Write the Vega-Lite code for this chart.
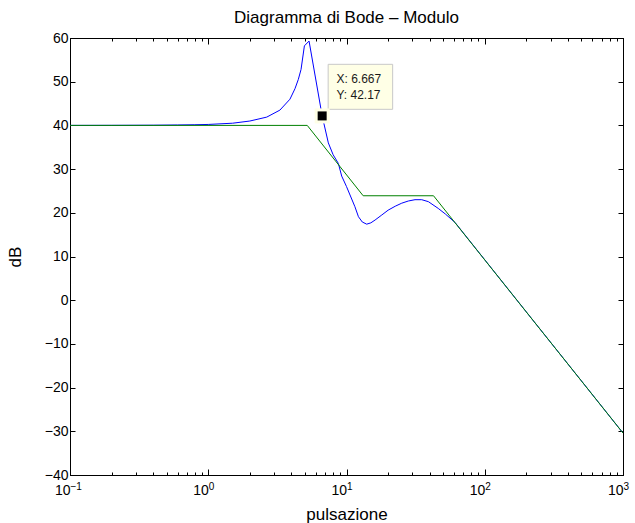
{
  "$schema": "https://vega.github.io/schema/vega-lite/v6.json",
  "width": 553,
  "height": 437,
  "autosize": {"type": "none"},
  "padding": {"left": 70, "top": 38, "right": 12, "bottom": 48},
  "background": "white",
  "title": {"text": "Diagramma di Bode – Modulo", "fontSize": 17, "fontWeight": "normal", "font": "Liberation Sans", "color": "black", "offset": 4, "anchor": "middle", "frame": "group"},
  "config": {
    "view": {"stroke": "black", "strokeWidth": 1},
    "axis": {
      "grid": false,
      "domainColor": "black",
      "tickColor": "black",
      "labelColor": "black",
      "titleColor": "black",
      "labelFont": "Liberation Sans",
      "titleFont": "Liberation Sans",
      "labelFontSize": 14,
      "titleFontSize": 17,
      "titleFontWeight": "normal"
    }
  },
  "datasets": {
    "modulo": [
      {"w": 0.1, "db": 40.0},
      {"w": 0.2, "db": 40.02},
      {"w": 0.4, "db": 40.05},
      {"w": 0.6, "db": 40.1},
      {"w": 0.8, "db": 40.15},
      {"w": 1.0, "db": 40.22},
      {"w": 1.5, "db": 40.5},
      {"w": 2.0, "db": 41.0},
      {"w": 2.65, "db": 41.9},
      {"w": 3.3, "db": 43.5},
      {"w": 3.9, "db": 46.0},
      {"w": 4.24, "db": 48.4},
      {"w": 4.48, "db": 50.5},
      {"w": 4.69, "db": 52.8},
      {"w": 4.96, "db": 58.2},
      {"w": 5.36, "db": 59.3},
      {"w": 6.667, "db": 42.17},
      {"w": 7.39, "db": 36.0},
      {"w": 8.0, "db": 33.3},
      {"w": 8.73, "db": 31.3},
      {"w": 9.23, "db": 28.4},
      {"w": 10.0, "db": 26.0},
      {"w": 11.5, "db": 21.4},
      {"w": 12.2, "db": 19.1},
      {"w": 13.0, "db": 17.9},
      {"w": 14.0, "db": 17.4},
      {"w": 15.0, "db": 17.7},
      {"w": 16.1, "db": 18.35},
      {"w": 18.0, "db": 19.5},
      {"w": 20.0, "db": 20.6},
      {"w": 22.5, "db": 21.5},
      {"w": 25.1, "db": 22.2},
      {"w": 28.0, "db": 22.7},
      {"w": 31.3, "db": 23.0},
      {"w": 35.0, "db": 23.0},
      {"w": 39.1, "db": 22.55},
      {"w": 46.1, "db": 21.0},
      {"w": 52.0, "db": 19.7},
      {"w": 60.9, "db": 17.8},
      {"w": 70.0, "db": 15.4},
      {"w": 100.0, "db": 9.25},
      {"w": 200.0, "db": -2.7},
      {"w": 500.0, "db": -18.45},
      {"w": 1000.0, "db": -30.4}
    ],
    "asintoti": [
      {"w": 0.1, "db": 40.0},
      {"w": 5.2, "db": 40.0},
      {"w": 13.2, "db": 23.9},
      {"w": 42.6, "db": 23.9},
      {"w": 1000.0, "db": -30.4}
    ],
    "tip": [
      {"w": 6.667, "db": 42.17, "label": "X: 6.667\nY: 42.17"}
    ]
  },
  "layer": [
    {
      "data": {"name": "modulo"},
      "mark": {"type": "line", "color": "#0000ff", "strokeWidth": 1, "clip": true},
      "encoding": {
        "x": {
          "field": "w", "type": "quantitative",
          "scale": {"type": "log", "domain": [0.1, 1000], "nice": false},
          "axis": {
            "orient": "bottom",
            "title": "pulsazione",
            "values": [0.1,0.2,0.3,0.4,0.5,0.6,0.7,0.8,0.9,1,2,3,4,5,6,7,8,9,10,20,30,40,50,60,70,80,90,100,200,300,400,500,600,700,800,900,1000],
            "labelExpr": "datum.value == 0.1 || datum.value == 1 || datum.value == 10 || datum.value == 100 || datum.value == 1000 ? '10' : ''",
            "labelAlign": "right",
            "labelDx": 4,
            "labelFlush": false,
            "labelOverlap": false,
            "tickSize": {"condition": {"test": "datum.value == 0.1 || datum.value == 1 || datum.value == 10 || datum.value == 100 || datum.value == 1000", "value": -6}, "value": -3},
            "labelPadding": 14,
            "titlePadding": 6
          }
        },
        "y": {
          "field": "db", "type": "quantitative",
          "scale": {"domain": [-40, 60], "nice": false, "zero": false},
          "axis": {
            "orient": "left",
            "title": "dB",
            "values": [-40,-30,-20,-10,0,10,20,30,40,50,60],
            "tickSize": -5,
            "labelPadding": 7,
            "titlePadding": 20
          }
        }
      }
    },
    {
      "data": {"name": "asintoti"},
      "mark": {"type": "line", "color": "#008000", "strokeWidth": 1, "clip": true},
      "encoding": {
        "x": {
          "field": "w", "type": "quantitative",
          "scale": {"type": "log", "domain": [0.1, 1000], "nice": false},
          "axis": {
            "orient": "top",
            "title": null,
            "labels": false,
            "values": [0.1,0.2,0.3,0.4,0.5,0.6,0.7,0.8,0.9,1,2,3,4,5,6,7,8,9,10,20,30,40,50,60,70,80,90,100,200,300,400,500,600,700,800,900,1000],
            "tickSize": {"condition": {"test": "datum.value == 0.1 || datum.value == 1 || datum.value == 10 || datum.value == 100 || datum.value == 1000", "value": -6}, "value": -3}
          }
        },
        "y": {
          "field": "db", "type": "quantitative",
          "scale": {"domain": [-40, 60], "nice": false, "zero": false},
          "axis": {
            "orient": "right",
            "title": null,
            "labels": false,
            "values": [-40,-30,-20,-10,0,10,20,30,40,50,60],
            "tickSize": -5
          }
        }
      }
    },
    {
      "data": {"name": "tip"},
      "mark": {"type": "rect", "fill": "#ffffe6", "stroke": "#c8c8c8", "strokeWidth": 1, "xOffset": 6, "x2Offset": 70.5, "yOffset": -51.6, "y2Offset": -6.6},
      "encoding": {
        "x": {"field": "w", "type": "quantitative", "scale": {"type": "log", "domain": [0.1, 1000], "nice": false}, "axis": null},
        "x2": {"field": "w"},
        "y": {"field": "db", "type": "quantitative", "scale": {"domain": [-40, 60], "nice": false, "zero": false}, "axis": null},
        "y2": {"field": "db"}
      }
    },
    {
      "data": {"name": "tip"},
      "mark": {"type": "point", "shape": "square", "filled": true, "fill": "#ffffe6", "opacity": 1, "size": 225, "strokeWidth": 0},
      "encoding": {
        "x": {
          "field": "w", "type": "quantitative",
          "scale": {"type": "log", "domain": [0.1, 1000], "nice": false},
          "axis": {
            "orient": "bottom",
            "title": null,
            "domain": false,
            "ticks": false,
            "values": [0.1, 1, 10, 100, 1000],
            "labelExpr": "datum.value == 0.1 ? '−1' : datum.value == 1 ? '0' : datum.value == 10 ? '1' : datum.value == 100 ? '2' : '3'",
            "labelAlign": "left",
            "labelDx": 5,
            "labelFontSize": 10,
            "labelFlush": false,
            "labelOverlap": false,
            "labelPadding": 6
          }
        },
        "y": {"field": "db", "type": "quantitative", "scale": {"domain": [-40, 60], "nice": false, "zero": false}, "axis": null}
      }
    },
    {
      "data": {"name": "tip"},
      "mark": {"type": "point", "shape": "square", "filled": true, "fill": "black", "opacity": 1, "size": 81, "strokeWidth": 0},
      "encoding": {
        "x": {"field": "w", "type": "quantitative", "scale": {"type": "log", "domain": [0.1, 1000], "nice": false}, "axis": null},
        "y": {"field": "db", "type": "quantitative", "scale": {"domain": [-40, 60], "nice": false, "zero": false}, "axis": null}
      }
    },
    {
      "data": {"name": "tip"},
      "mark": {"type": "text", "align": "left", "baseline": "alphabetic", "dx": 14.3, "dy": -32.7, "font": "Liberation Sans", "fontSize": 12, "lineHeight": 15.7, "lineBreak": "\n", "color": "#1a1a1a"},
      "encoding": {
        "x": {"field": "w", "type": "quantitative", "scale": {"type": "log", "domain": [0.1, 1000], "nice": false}, "axis": null},
        "y": {"field": "db", "type": "quantitative", "scale": {"domain": [-40, 60], "nice": false, "zero": false}, "axis": null},
        "text": {"field": "label"}
      }
    }
  ],
  "resolve": {"axis": {"x": "independent", "y": "independent"}}
}
